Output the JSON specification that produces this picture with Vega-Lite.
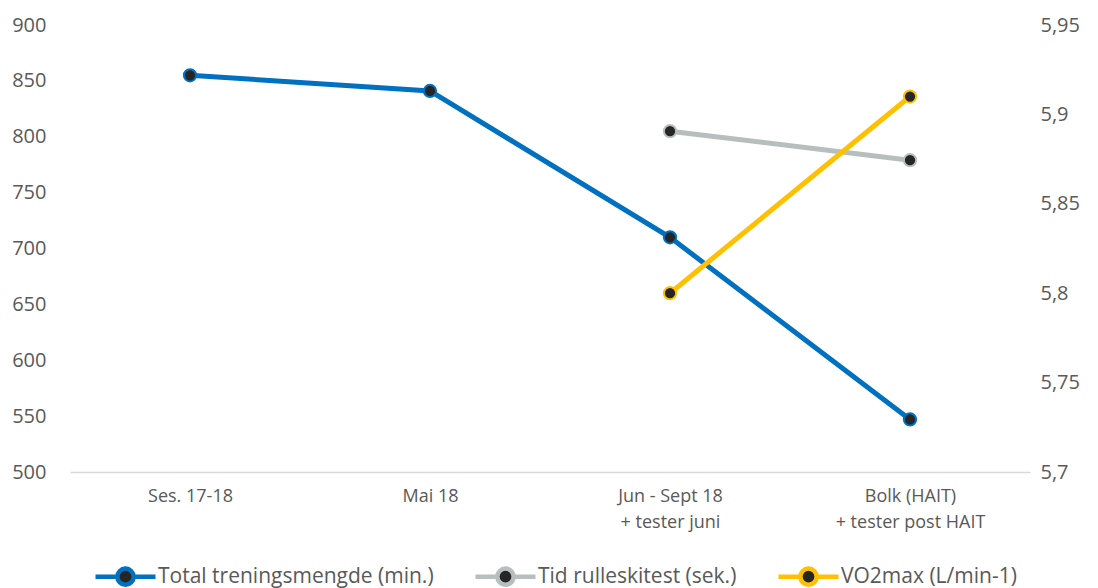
{
  "$schema": "https://vega.github.io/schema/vega-lite/v6.json",
  "width": 960,
  "height": 447,
  "autosize": "none",
  "padding": {"left": 70, "top": 25, "right": 68, "bottom": 116},
  "background": "white",
  "config": {
    "view": {"stroke": null},
    "font": "Open Sans",
    "locale": {"number": {"decimal": ",", "thousands": " ", "grouping": [3], "currency": ["", " kr"]}}
  },
  "datasets": {
    "main": [
      {"periode": "Ses. 17-18", "serie": "Total treningsmengde (min.)", "verdi": 855},
      {"periode": "Mai 18", "serie": "Total treningsmengde (min.)", "verdi": 841},
      {"periode": "Jun - Sept 18|+ tester juni", "serie": "Total treningsmengde (min.)", "verdi": 710},
      {"periode": "Bolk (HAIT)|+ tester post HAIT", "serie": "Total treningsmengde (min.)", "verdi": 547},
      {"periode": "Jun - Sept 18|+ tester juni", "serie": "Tid rulleskitest (sek.)", "verdi": 805},
      {"periode": "Bolk (HAIT)|+ tester post HAIT", "serie": "Tid rulleskitest (sek.)", "verdi": 779}
    ],
    "vo2": [
      {"periode": "Jun - Sept 18|+ tester juni", "serie": "VO2max (L/min-1)", "verdi": 5.80},
      {"periode": "Bolk (HAIT)|+ tester post HAIT", "serie": "VO2max (L/min-1)", "verdi": 5.91}
    ]
  },
  "encoding": {
    "x": {
      "field": "periode",
      "type": "nominal",
      "sort": null,
      "scale": {"type": "point", "padding": 0.5, "domain": ["Ses. 17-18", "Mai 18", "Jun - Sept 18|+ tester juni", "Bolk (HAIT)|+ tester post HAIT"]},
      "axis": {
        "title": null,
        "labelAngle": 0,
        "labelExpr": "split(datum.label, '|')",
        "labelFontSize": 18,
        "labelColor": "#595959",
        "labelLineHeight": 26,
        "labelPadding": 15,
        "ticks": false,
        "domainColor": "#D9D9D9",
        "domainWidth": 1.5,
        "grid": false
      }
    }
  },
  "layer": [
    {
      "data": {"name": "main"},
      "encoding": {
        "y": {
          "field": "verdi",
          "type": "quantitative",
          "scale": {"domain": [500, 900], "zero": false, "nice": false},
          "axis": {
            "title": null,
            "orient": "left",
            "values": [500, 550, 600, 650, 700, 750, 800, 850, 900],
            "domain": false,
            "ticks": false,
            "grid": false,
            "labelFontSize": 20,
            "labelColor": "#595959",
            "labelPadding": 24
          }
        }
      },
      "layer": [
        {
          "mark": {"type": "line", "strokeWidth": 5},
          "encoding": {
            "color": {
              "field": "serie",
              "type": "nominal",
              "scale": {
                "domain": ["Total treningsmengde (min.)", "Tid rulleskitest (sek.)", "VO2max (L/min-1)"],
                "range": ["#0070C0", "#B6BFBD", "#FFC000"]
              },
              "legend": {
                "title": null,
                "orient": "none",
                "direction": "horizontal",
                "legendX": 23,
                "legendY": 519,
                "symbolType": "M-1,0H-0.3M0.3,0H1M-0.27,0A0.27,0.27 0 1,0 0.27,0A0.27,0.27 0 1,0 -0.27,0Z",
                "symbolSize": 3600,
                "symbolStrokeWidth": 4.5,
                "labelFontSize": 21,
                "labelLimit": 0,
                "labelColor": "#595959",
                "labelOffset": 0,
                "columnPadding": 32,
                "encode": {"symbols": {"update": {"fill": {"value": "#262626"}, "opacity": {"value": 1}}}}
              }
            }
          }
        },
        {
          "mark": {"type": "point", "filled": true, "fill": "#262626", "size": 150, "strokeWidth": 2, "opacity": 1},
          "encoding": {
            "stroke": {
              "field": "serie",
              "type": "nominal",
              "scale": {
                "domain": ["Total treningsmengde (min.)", "Tid rulleskitest (sek.)", "VO2max (L/min-1)"],
                "range": ["#0070C0", "#B6BFBD", "#FFC000"]
              },
              "legend": null
            }
          }
        }
      ]
    },
    {
      "data": {"name": "vo2"},
      "encoding": {
        "y": {
          "field": "verdi",
          "type": "quantitative",
          "scale": {"domain": [5.7, 5.95], "zero": false, "nice": false},
          "axis": {
            "title": null,
            "orient": "right",
            "values": [5.7, 5.75, 5.8, 5.85, 5.9, 5.95],
            "format": ".2~f",
            "domain": false,
            "ticks": false,
            "grid": false,
            "labelFontSize": 20,
            "labelColor": "#595959",
            "labelPadding": 10
          }
        }
      },
      "layer": [
        {
          "mark": {"type": "line", "strokeWidth": 5},
          "encoding": {
            "color": {"field": "serie", "type": "nominal"}
          }
        },
        {
          "mark": {"type": "point", "filled": true, "fill": "#262626", "size": 150, "strokeWidth": 2, "opacity": 1},
          "encoding": {
            "stroke": {"field": "serie", "type": "nominal", "legend": null}
          }
        }
      ]
    }
  ],
  "resolve": {"scale": {"y": "independent"}}
}
